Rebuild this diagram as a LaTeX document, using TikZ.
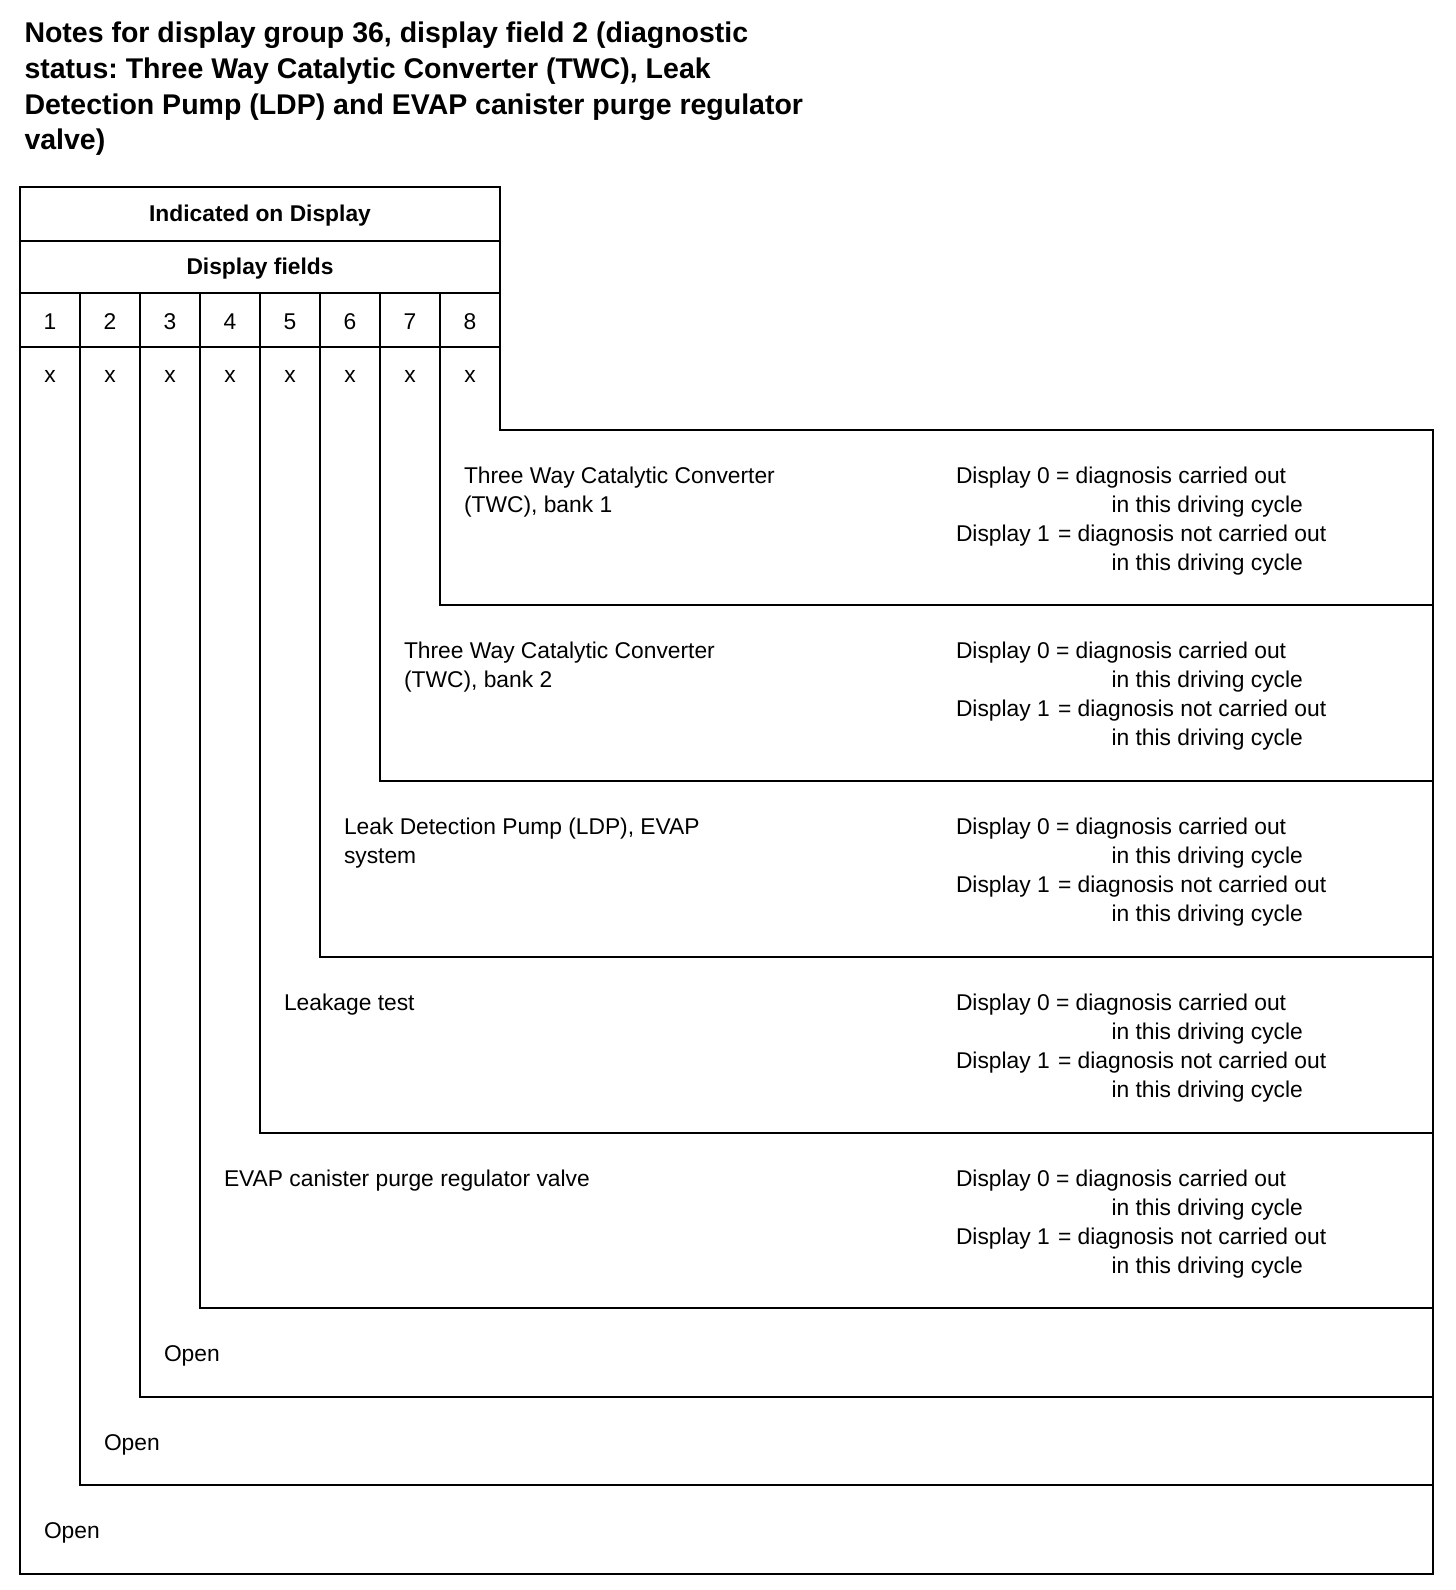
\documentclass[tikz,border=0pt]{standalone}
\usepackage{fontspec}
\setmainfont{Liberation Sans}
\frenchspacing
\newcommand{\regfont}{\fontsize{22.8}{29.2}\selectfont}
\newcommand{\titfont}{\fontsize{28.5}{35.8}\selectfont\bfseries}
\newcommand{\dispblock}[2]{%
  \node[lbl] (#1d1) at (956,#2) {Display 0 = diagnosis carried out};
  \node[lbl] (#1d2) at (1111.5,#2+29.2) {in this driving cycle};
  \node[lbl] (#1d3) at (956,#2+58.4) {Display 1\hspace{2pt} = diagnosis not carried out};
  \node[lbl] (#1d4) at (1111.5,#2+87.6) {in this driving cycle};
}
\begin{document}
\begin{tikzpicture}[x=1pt,y=-1pt,
  lbl/.style={anchor=base west,inner sep=0pt,outer sep=0pt,font=\regfont},
  ctr/.style={anchor=base,inner sep=0pt,outer sep=0pt,font=\regfont},
  hdr/.style={anchor=base,inner sep=0pt,outer sep=0pt,font=\regfont\bfseries},
  ttl/.style={anchor=base west,inner sep=0pt,outer sep=0pt,font=\titfont},
  rule/.style={line width=2.9pt,line join=miter}]
\useasboundingbox (0,0) rectangle (1456,1590);
% title
\node[ttl] (t1) at (24.5,42.5) {Notes for display group 36, display field 2 (diagnostic};
\node[ttl] (t2) at (24.5,78.3) {status: Three Way Catalytic Converter (TWC), Leak};
\node[ttl] (t3) at (24.5,114.1) {Detection Pump (LDP) and EVAP canister purge regulator};
\node[ttl] (t4) at (24.5,149.9) {valve)};
% outer outline
\draw[rule] (20,187) -- (500,187) -- (500,430) -- (1433,430) -- (1433,1574) -- (20,1574) -- cycle;
% header rows
\draw[rule] (20,241) -- (500,241);
\draw[rule] (20,293) -- (500,293);
\draw[rule] (20,347) -- (500,347);
% nested column lines
\draw[rule] (440,293) -- (440,605) -- (1433,605);
\draw[rule] (380,293) -- (380,781) -- (1433,781);
\draw[rule] (320,293) -- (320,957) -- (1433,957);
\draw[rule] (260,293) -- (260,1133) -- (1433,1133);
\draw[rule] (200,293) -- (200,1308) -- (1433,1308);
\draw[rule] (140,293) -- (140,1397) -- (1433,1397);
\draw[rule] (80,293) -- (80,1485) -- (1433,1485);
% header text
\node[hdr] (h1) at (260,221.5) {Indicated on Display};
\node[hdr] (h2) at (260,274.5) {Display fields};
\foreach \i in {1,...,8}{
  \node[ctr] (n\i) at ({-10+60*\i},329) {\i};
  \node[ctr] (x\i) at ({-10+60*\i},382) {x};
}
% band 8
\node[lbl] (b8a) at (464,483) {Three Way Catalytic Converter};
\node[lbl] (b8b) at (464,512.2) {(TWC), bank 1};
\dispblock{b8}{483}
% band 7
\node[lbl] (b7a) at (404,658) {Three Way Catalytic Converter};
\node[lbl] (b7b) at (404,687.2) {(TWC), bank 2};
\dispblock{b7}{658}
% band 6
\node[lbl] (b6a) at (344,834) {Leak Detection Pump (LDP), EVAP};
\node[lbl] (b6b) at (344,863.2) {system};
\dispblock{b6}{834}
% band 5
\node[lbl] (b5a) at (284,1010) {Leakage test};
\dispblock{b5}{1010}
% band 4
\node[lbl] (b4a) at (224,1186) {EVAP canister purge regulator valve};
\dispblock{b4}{1186}
% open fields
\node[lbl] (o3) at (164,1361) {Open};
\node[lbl] (o2) at (104,1450) {Open};
\node[lbl] (o1) at (44,1538) {Open};
\end{tikzpicture}
\end{document}
